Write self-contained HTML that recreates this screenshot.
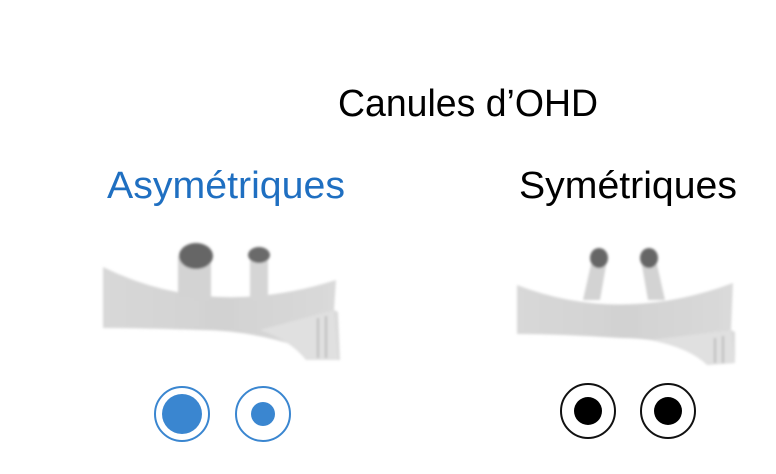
<!DOCTYPE html>
<html><head><meta charset="utf-8"><style>
html,body{margin:0;padding:0;background:#fff;}
svg{display:block;}
text{font-family:"Liberation Sans",sans-serif;}
</style></head><body>
<svg width="776" height="474" viewBox="0 0 776 474" xmlns="http://www.w3.org/2000/svg">
<defs>
<filter id="b"><feGaussianBlur stdDeviation="1.2"/></filter>
<linearGradient id="g" x1="0" x2="1"><stop offset="0" stop-color="#d8d8d8"/><stop offset="0.5" stop-color="#d2d2d2"/><stop offset="1" stop-color="#dadada"/></linearGradient>
</defs>
<text x="468" y="116" font-size="38" text-anchor="middle" fill="#000" textLength="260" lengthAdjust="spacingAndGlyphs">Canules d’OHD</text>
<text x="226" y="198" font-size="38" text-anchor="middle" fill="#1f6fc1" textLength="238" lengthAdjust="spacingAndGlyphs">Asymétriques</text>
<text x="628" y="198" font-size="38" text-anchor="middle" fill="#000" textLength="218" lengthAdjust="spacingAndGlyphs">Symétriques</text>

<g filter="url(#b)">
<path d="M103 267 Q210 320 336 280 L334 310 L338 312 L340 360 L306 360 L303 348 Q250 330 200 330 Q140 328 103 328 Z" fill="url(#g)"/>
<path d="M260 330 L334 310 L338 360 L306 360 Q290 340 260 330Z" fill="#e0e0e0"/>
<line x1="318" y1="318" x2="318" y2="358" stroke="#bbb" stroke-width="2"/>
<line x1="326" y1="316" x2="326" y2="358" stroke="#bbb" stroke-width="2"/>
<rect x="178" y="256" width="33" height="42" fill="#d3d3d3"/>
<ellipse cx="196" cy="256" rx="17" ry="13" fill="#666"/>
<rect x="250" y="256" width="18" height="42" fill="#d5d5d5"/>
<ellipse cx="259" cy="255" rx="11" ry="8" fill="#6a6a6a"/>

<path d="M517 285 Q620 325 733 283 L731 330 L735 332 L735 363 L707 365 L704 352 Q660 338 620 338 Q560 334 517 334 Z" fill="url(#g)"/>
<path d="M650 340 L731 330 L735 363 L707 365 Q690 348 650 340Z" fill="#e0e0e0"/>
<line x1="715" y1="338" x2="715" y2="363" stroke="#bbb" stroke-width="2"/>
<line x1="723" y1="336" x2="723" y2="363" stroke="#bbb" stroke-width="2"/>
<path d="M592 260 L607 260 L600 300 L583 300 Z" fill="#d3d3d3"/>
<path d="M641 260 L656 260 L665 300 L648 300 Z" fill="#d3d3d3"/>
<ellipse cx="599" cy="258" rx="9" ry="10" fill="#666"/>
<ellipse cx="649" cy="258" rx="9" ry="10" fill="#666"/>
</g>

<circle cx="182" cy="414" r="27" fill="none" stroke="#3a86d0" stroke-width="2"/>
<circle cx="182" cy="414" r="20" fill="#3a86d0"/>
<circle cx="263" cy="414" r="27" fill="none" stroke="#3a86d0" stroke-width="2"/>
<circle cx="263" cy="414" r="12" fill="#3a86d0"/>
<circle cx="588" cy="411" r="27" fill="none" stroke="#111" stroke-width="2"/>
<circle cx="588" cy="411" r="14" fill="#000"/>
<circle cx="668" cy="411" r="27" fill="none" stroke="#111" stroke-width="2"/>
<circle cx="668" cy="411" r="14" fill="#000"/>
</svg>
</body></html>
